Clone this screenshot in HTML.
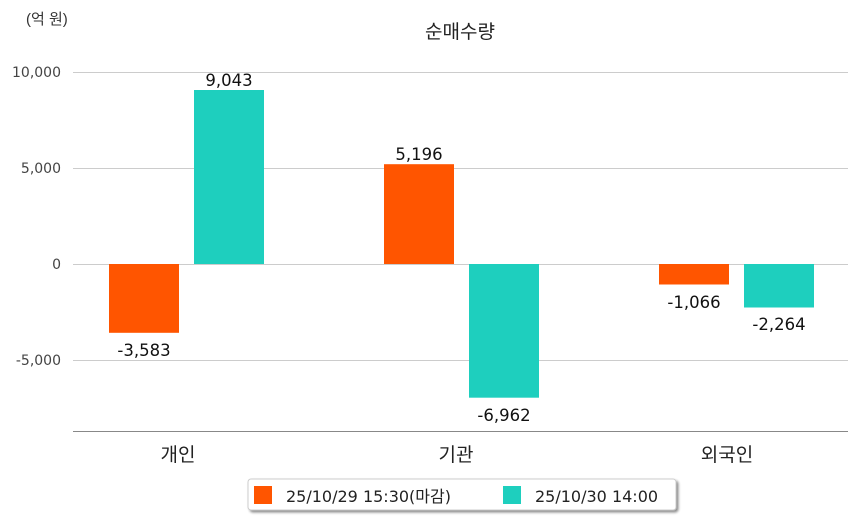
<!DOCTYPE html>
<html><head><meta charset="utf-8"><style>
html,body{margin:0;padding:0;background:#fff;}
svg{display:block;font-family:"DejaVu Sans","Noto Sans CJK KR",sans-serif;}
</style></head><body>
<svg width="858" height="520" viewBox="0 0 858 520" xmlns="http://www.w3.org/2000/svg">
<defs><filter id="sh" x="-5%" y="-20%" width="110%" height="160%"><feDropShadow dx="2" dy="2" stdDeviation="1.2" flood-color="#000" flood-opacity="0.45"/></filter></defs>
<text x="26" y="24" font-size="15" fill="#333" font-family="Liberation Sans, Noto Sans CJK KR, sans-serif">(억 원)</text>
<text x="460" y="38" font-size="19" fill="#222" text-anchor="middle" font-family="Noto Sans CJK KR, sans-serif">순매수량</text>
<g stroke="#ccc" stroke-width="1">
<line x1="73" y1="72.5" x2="848" y2="72.5"/>
<line x1="73" y1="168.5" x2="848" y2="168.5"/>
<line x1="73" y1="264.5" x2="848" y2="264.5"/>
<line x1="73" y1="360.5" x2="848" y2="360.5"/>
</g>
<line x1="73" y1="431.5" x2="848" y2="431.5" stroke="#888" stroke-width="1"/>
<g font-size="14" fill="#444" text-anchor="end">
<text x="61" y="77">10,000</text>
<text x="61" y="173">5,000</text>
<text x="61" y="269">0</text>
<text x="61" y="365">-5,000</text>
</g>
<g fill="#ff5500">
<rect x="109" y="264" width="70" height="68.8"/>
<rect x="384" y="164.2" width="70" height="99.8"/>
<rect x="659" y="264" width="70" height="20.5"/>
</g>
<g fill="#1ecfbe">
<rect x="194" y="90" width="70" height="174"/>
<rect x="469" y="264" width="70" height="133.7"/>
<rect x="744" y="264" width="70" height="43.5"/>
</g>
<g font-size="16.5" fill="#111" text-anchor="middle">
<text x="144" y="356">-3,583</text>
<text x="229" y="86">9,043</text>
<text x="419" y="160">5,196</text>
<text x="504" y="421">-6,962</text>
<text x="694" y="308">-1,066</text>
<text x="779" y="330">-2,264</text>
</g>
<g font-size="19" fill="#222" text-anchor="middle" font-family="Noto Sans CJK KR, sans-serif">
<text x="178" y="461">개인</text>
<text x="456" y="461">기관</text>
<text x="727" y="461">외국인</text>
</g>
<rect x="248" y="479" width="428" height="31" rx="3" fill="#fff" stroke="#ccc" filter="url(#sh)"/>
<rect x="254" y="486" width="18" height="18" fill="#ff5500"/>
<text x="286" y="502" font-size="16" fill="#222">25/10/29 15:30(마감)</text>
<rect x="503" y="486" width="18" height="18" fill="#1ecfbe"/>
<text x="535" y="502" font-size="16" fill="#222">25/10/30 14:00</text>
</svg>
</body></html>
